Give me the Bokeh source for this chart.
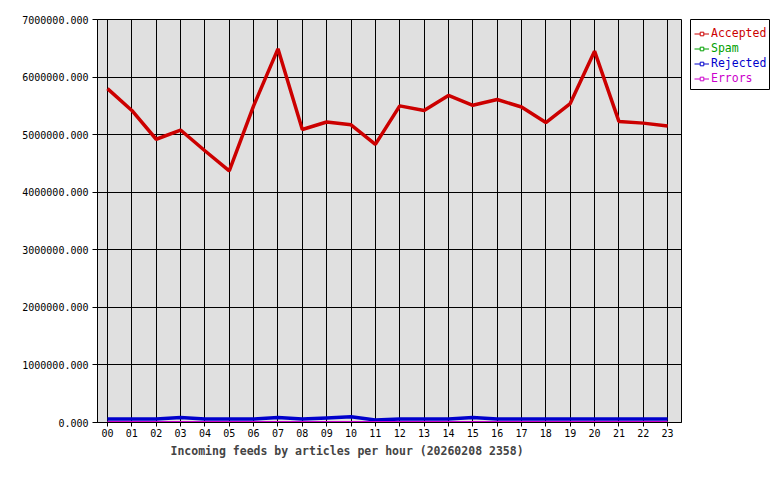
from bokeh.plotting import figure
from bokeh.layouts import row
from bokeh.models import (Range1d, FixedTicker, PrintfTickFormatter, Legend, LegendItem, Title)
from bokeh.embed import file_html
from bokeh.resources import INLINE

hours = ["00", "01", "02", "03", "04", "05", "06", "07", "08", "09", "10", "11",
         "12", "13", "14", "15", "16", "17", "18", "19", "20", "21", "22", "23"]
accepted = [5800000, 5420000, 4920000, 5080000, 4720000, 4370000, 5500000, 6490000,
            5090000, 5220000, 5170000, 4830000, 5500000, 5420000, 5680000, 5510000,
            5610000, 5480000, 5210000, 5540000, 6450000, 5230000, 5200000, 5150000]
spam = [0] * 24
rejected = [60000, 60000, 60000, 85000, 60000, 60000, 60000, 85000, 60000, 80000,
            100000, 45000, 60000, 60000, 60000, 85000, 60000, 60000, 60000, 60000,
            60000, 60000, 60000, 60000]
errors = [0] * 24
y_ticks = [0, 1000000, 2000000, 3000000, 4000000, 5000000, 6000000, 7000000]
x_label = "Incoming feeds by articles per hour (20260208 2358)"

series = [("Accepted", accepted, "#cc0000", 3.5),
          ("Spam", spam, "#00a000", 2),
          ("Rejected", rejected, "#0000cc", 3.5),
          ("Errors", errors, "#cc00cc", 3)]

x = list(range(len(hours)))
MONO = "DejaVu Sans Mono"

p = figure(frame_width=584, frame_height=403, output_backend="svg", toolbar_location=None,
           x_range=Range1d(-0.41, 23.57), y_range=Range1d(0, 7000000),
           min_border_left=97, min_border_top=19, min_border_right=9, min_border_bottom=50,
           background_fill_color="#e0e0e0", border_fill_color="white",
           outline_line_color="black", outline_line_width=1)

for name, vals, col, lw in series:
    p.line(x, vals, line_color=col, line_width=lw)

# axes
p.xaxis.ticker = FixedTicker(ticks=x)
p.xaxis.major_label_overrides = {i: h for i, h in enumerate(hours)}
p.yaxis.ticker = FixedTicker(ticks=y_ticks)
p.yaxis.formatter = PrintfTickFormatter(format="%.3f")
for ax in (p.xaxis[0], p.yaxis[0]):
    ax.axis_line_color = "black"
    ax.major_tick_line_color = "black"
    ax.major_tick_in = 0
    ax.minor_tick_line_color = None
    ax.major_label_text_font = MONO
    ax.major_label_text_font_size = "10px"
    ax.major_label_text_color = "black"
p.yaxis.major_tick_out = 5
p.yaxis.major_label_standoff = 4
p.xaxis.major_tick_out = 4
p.xaxis.major_label_standoff = 2

p.xgrid.ticker = FixedTicker(ticks=x)
p.ygrid.ticker = FixedTicker(ticks=y_ticks)
for g in (p.xgrid[0], p.ygrid[0]):
    g.grid_line_color = "black"
    g.grid_line_width = 1
    g.grid_line_alpha = 1

p.add_layout(Title(text=x_label, align="left", offset=73, text_font=MONO,
                   text_font_size="11.5px", text_font_style="bold", standoff=4), "below")

# legend panel: a small boxed figure holding one legend per series (coloured labels)
lg = figure(frame_width=80, frame_height=71, output_backend="svg", toolbar_location=None,
            x_axis_type=None, y_axis_type=None, x_range=Range1d(0, 1), y_range=Range1d(0, 1),
            min_border_left=0, min_border_right=0, min_border_top=19, min_border_bottom=0,
            background_fill_color="white", border_fill_color="white",
            outline_line_color="black", outline_line_width=1)
lg.grid.visible = False

item_bottoms = [49.5, 34.5, 19.5, 4.5]
for (name, vals, col, lw), yb in zip(series, item_bottoms):
    r = lg.line(x, vals, line_color=col, line_width=1, visible=False)
    s = lg.scatter(x, vals, marker="square", line_color=col, fill_color="white",
                   line_width=1, visible=False)
    leg = Legend(items=[LegendItem(label=name, renderers=[r, s])], location=(4, yb),
                 glyph_width=15, glyph_height=9, label_height=15, label_standoff=2,
                 padding=0, margin=0, spacing=0,
                 label_text_font=MONO, label_text_font_size="11.5px",
                 label_text_color=col, border_line_color=None,
                 background_fill_alpha=0)
    lg.add_layout(leg, "center")

layout = row(p, lg)
open("out.html", "w").write(file_html(layout, INLINE))
